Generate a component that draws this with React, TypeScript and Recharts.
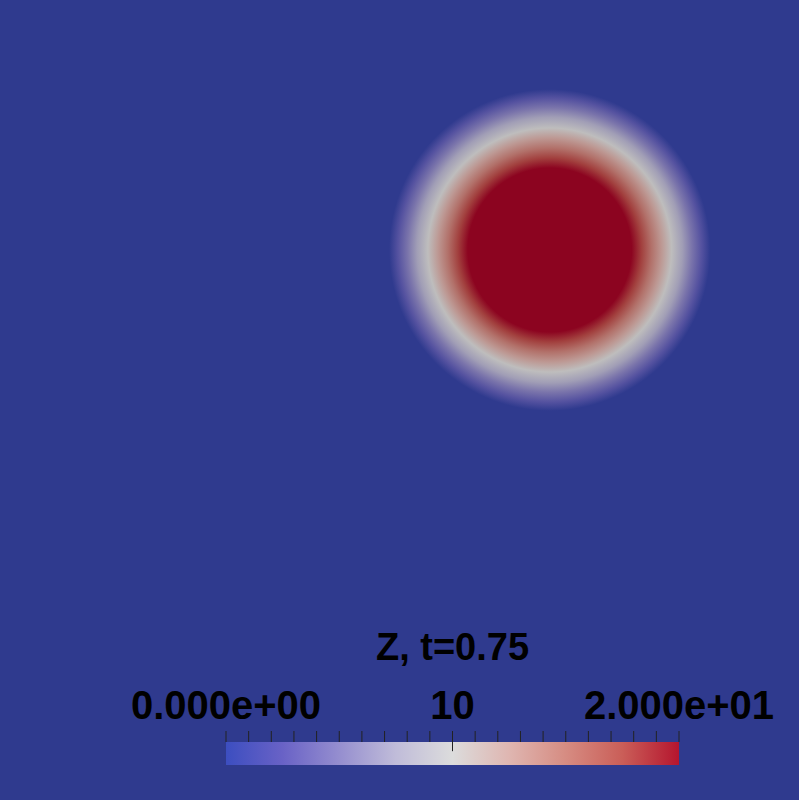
import { ComposedChart, Scatter, XAxis, YAxis, ReferenceArea, ReferenceLine } from "recharts";

// colormap stops (value -> colour on the legend bar)
const CMAP_VALUES = [0, 2.5, 5, 7.5, 10, 12.5, 15, 17.5, 20];
const CMAP_COLORS = ["#3c4ec0", "#6962c6", "#958ecf", "#c0bcd9", "#dcdcdc", "#dfb6b1", "#d68c82", "#ca5e58", "#b5152e"];
// same stops as they look on the shaded field
const FIELD_COLORS = ["#2f3a8e", "#5552a0", "#7a74ab", "#a19eb6", "#bebdbd", "#bd9893", "#b2716a", "#a2403e", "#8c0420"];

// field blob: centre and radial profile (plot units 0..100)
const BLOB_X = 68.8;
const BLOB_Y = 68.75;
const PROFILE_RADIUS = [0, 10.25, 11.5, 12.75, 14, 15.25, 16.6, 17.8, 19, 20.1, 21.25];
const PROFILE_VALUE = [20, 20, 17.5, 15, 12.5, 10, 7.5, 5, 2.5, 0, 0];

const LEGEND_TICKS = [0, 1, 2, 3, 4, 5, 6, 7, 8, 9, 10, 11, 12, 13, 14, 15, 16, 17, 18, 19, 20];
const LEGEND_LABELS: Record<number, string> = { 0: "0.000e+00", 10: "10", 20: "2.000e+01" };
const TITLE = "Z, t=0.75";

const FONT = "'Liberation Sans', Arial, sans-serif";
const W = 799;
const H = 800;

function fieldColor(v: number) {
  const i = CMAP_VALUES.indexOf(v);
  if (i >= 0) return FIELD_COLORS[i];
  let k = 0;
  while (k < CMAP_VALUES.length - 2 && v > CMAP_VALUES[k + 1]) k++;
  return FIELD_COLORS[k];
}

const R = PROFILE_RADIUS[PROFILE_RADIUS.length - 1];
const centre = [{ x: BLOB_X, y: BLOB_Y }];
const legendPoints = LEGEND_TICKS.map((t) => ({ v: t, y: 1 }));

function Blob(props: any) {
  const { x, y, width, height } = props;
  return (
    <ellipse
      cx={x + width / 2}
      cy={y + height / 2}
      rx={width / 2}
      ry={height / 2}
      fill="url(#blobGrad)"
    />
  );
}

const NoShape = () => <g />;

export default function App() {
  return (
    <div style={{ position: "absolute", left: 0, top: 0, width: W, height: H }}>
      <div style={{ position: "absolute", left: 0, top: 0 }}>
        <ComposedChart width={W} height={H} margin={{ top: 0, right: 0, bottom: 0, left: 0 }}>
          <defs>
            <radialGradient id="blobGrad" cx="50%" cy="50%" r="50%">
              {PROFILE_RADIUS.map((r, i) => (
                <stop key={i} offset={`${(r / R) * 100}%`} stopColor={fieldColor(PROFILE_VALUE[i])} />
              ))}
            </radialGradient>
          </defs>
          <XAxis type="number" dataKey="x" domain={[0, 100]} hide />
          <YAxis type="number" dataKey="y" domain={[0, 100]} hide />
          <ReferenceArea x1={0} x2={100} y1={0} y2={100} fill={FIELD_COLORS[0]} fillOpacity={1} stroke="none" />
          <ReferenceArea
            x1={BLOB_X - R}
            x2={BLOB_X + R}
            y1={BLOB_Y - R}
            y2={BLOB_Y + R}
            shape={Blob}
          />
          <Scatter data={centre} dataKey="y" shape={NoShape} isAnimationActive={false} />
        </ComposedChart>
      </div>
      <div style={{ position: "absolute", left: 0, top: 0, pointerEvents: "none" }}>
        <ComposedChart width={W} height={H} margin={{ top: 712, right: 120, bottom: 35, left: 226 }}>
          <defs>
            <linearGradient id="cbarGrad" x1="0" y1="0" x2="1" y2="0">
              {CMAP_VALUES.map((v, i) => (
                <stop key={i} offset={`${(v / 20) * 100}%`} stopColor={CMAP_COLORS[i]} />
              ))}
            </linearGradient>
          </defs>
          <XAxis
            type="number"
            dataKey="v"
            orientation="top"
            height={30}
            domain={[0, 20]}
            ticks={LEGEND_TICKS}
            interval={0}
            tickSize={11}
            tickMargin={12}
            axisLine={false}
            tickLine={{ stroke: "#222", strokeWidth: 1 }}
            tickFormatter={(v: number) => LEGEND_LABELS[v] ?? ""}
            tick={{ fill: "#000", fontSize: 40, fontFamily: FONT, fontWeight: 700 }}
            label={{ value: TITLE, position: "top", offset: 52, fill: "#000", fontSize: 38, fontFamily: FONT, fontWeight: 700 }}
          />
          <YAxis type="number" dataKey="y" domain={[0, 1]} hide />
          <ReferenceArea x1={0} x2={20} y1={0} y2={1} fill="url(#cbarGrad)" fillOpacity={1} stroke="none" />
          <ReferenceLine
            segment={[
              { x: 10, y: 1 },
              { x: 10, y: 0.6 },
            ]}
            stroke="#222"
            strokeWidth={1}
          />
          <Scatter data={legendPoints} dataKey="y" shape={NoShape} isAnimationActive={false} />
        </ComposedChart>
      </div>
    </div>
  );
}
